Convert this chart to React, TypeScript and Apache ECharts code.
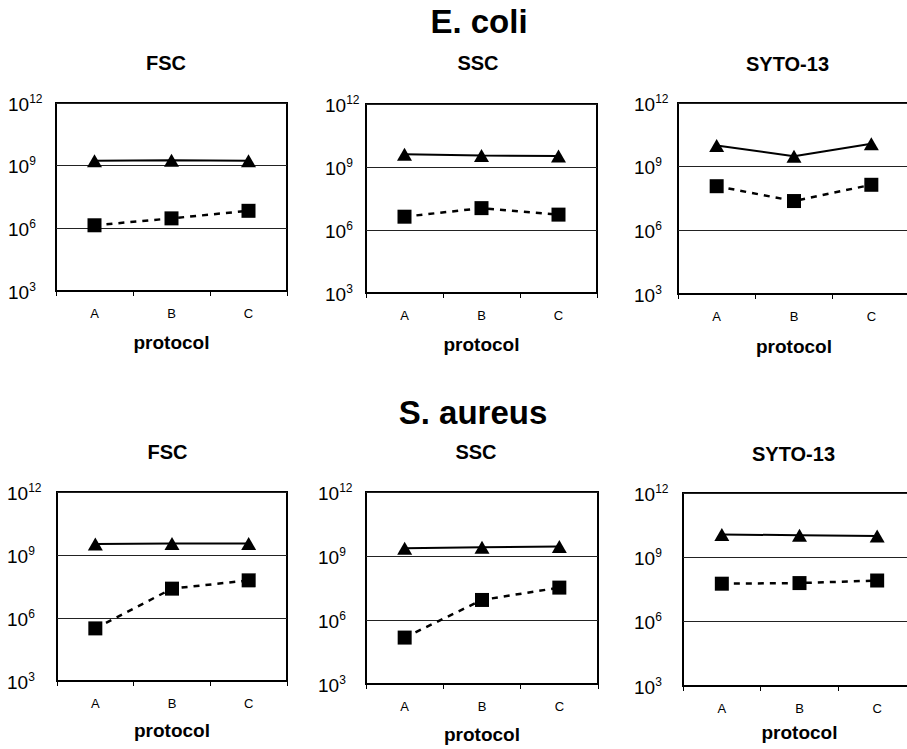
import React, { useEffect, useRef } from "react";
import * as echarts from "echarts";

// ---------- data ----------
const categories = ["A", "B", "C"];
const yAxisMin = 1e3;
const yAxisMax = 1e12;

const ecoliFscTriangles = [1.7e9, 1.8e9, 1.7e9];
const ecoliFscSquares = [1.4e6, 3.0e6, 6.9e6];
const ecoliSscTriangles = [4.0e9, 3.5e9, 3.3e9];
const ecoliSscSquares = [4.3e6, 1.1e7, 5.4e6];
const ecoliSytoTriangles = [1.0e10, 3.1e9, 1.2e10];
const ecoliSytoSquares = [1.2e8, 2.4e7, 1.4e8];

const saureusFscTriangles = [3.3e9, 3.5e9, 3.5e9];
const saureusFscSquares = [3.2e5, 2.5e7, 6.2e7];
const saureusSscTriangles = [2.3e9, 2.6e9, 2.8e9];
const saureusSscSquares = [1.5e5, 8.7e6, 3.3e7];
const saureusSytoTriangles = [1.17e10, 1.07e10, 9.8e9];
const saureusSytoSquares = [5.9e7, 6.3e7, 8.3e7];

const organismTitles = ["E. coli", "S. aureus"];
const panelTitles = ["FSC", "SSC", "SYTO-13", "FSC", "SSC", "SYTO-13"];
const xAxisTitle = "protocol";

const panelData = [
  [ecoliFscTriangles, ecoliFscSquares],
  [ecoliSscTriangles, ecoliSscSquares],
  [ecoliSytoTriangles, ecoliSytoSquares],
  [saureusFscTriangles, saureusFscSquares],
  [saureusSscTriangles, saureusSscSquares],
  [saureusSytoTriangles, saureusSytoSquares],
];

// ---------- layout ----------
const FONT = "'Liberation Sans', Arial, Helvetica, sans-serif";

const LAYOUT = [
  { left: 56, top: 103, width: 231, height: 188, labelMargin: 48, nameGap: 42, titleX: 166, titleTop: 53 },
  { left: 366, top: 104, width: 231, height: 189, labelMargin: 41, nameGap: 42, titleX: 478, titleTop: 53 },
  { left: 678, top: 103, width: 232, height: 191, labelMargin: 44, nameGap: 43, titleX: 787.5, titleTop: 54 },
  { left: 57, top: 492, width: 230, height: 189, labelMargin: 50, nameGap: 40, titleX: 167.5, titleTop: 442 },
  { left: 366, top: 492, width: 232, height: 192, labelMargin: 48, nameGap: 41, titleX: 476, titleTop: 442 },
  { left: 683, top: 493, width: 233, height: 193, labelMargin: 49, nameGap: 37, titleX: 793.5, titleTop: 444 },
];

const ORGANISM_POS = [
  { x: 479, top: 5 },
  { x: 473, top: 395.5 },
];

export default function App() {
  const ref = useRef<HTMLDivElement>(null);

  useEffect(() => {
    if (!ref.current) return;
    const chart = echarts.init(ref.current, null, { renderer: "svg" });

    const titles: any[] = [
      ...organismTitles.map((t, i) => ({
        text: t,
        left: ORGANISM_POS[i].x,
        top: ORGANISM_POS[i].top,
        textAlign: "center",
        padding: 0,
        textStyle: { fontSize: 33, fontWeight: "bold", color: "#000", fontFamily: FONT },
      })),
      ...panelTitles.map((t, i) => ({
        text: t,
        left: LAYOUT[i].titleX,
        top: LAYOUT[i].titleTop,
        textAlign: "center",
        padding: 0,
        textStyle: { fontSize: 20, fontWeight: "bold", color: "#000", fontFamily: FONT },
      })),
    ];

    const option: any = {
      animation: false,
      backgroundColor: "#ffffff",
      textStyle: { fontFamily: FONT, color: "#000" },
      title: titles,
      grid: LAYOUT.map((l) => ({
        left: l.left,
        top: l.top,
        width: l.width,
        height: l.height,
        show: true,
        borderColor: "#000",
        borderWidth: 2,
        backgroundColor: "transparent",
        containLabel: false,
        outerBoundsMode: "none",
      })),
      xAxis: LAYOUT.map((l, i) => ({
        type: "category",
        gridIndex: i,
        data: categories,
        boundaryGap: true,
        name: xAxisTitle,
        nameLocation: "middle",
        nameGap: l.nameGap,
        nameTextStyle: { fontSize: 19, fontWeight: "bold", color: "#000", fontFamily: FONT },
        axisLine: { show: true, lineStyle: { color: "#000", width: 2 } },
        axisTick: { show: true, length: 5, lineStyle: { color: "#000", width: 1 } },
        axisLabel: { fontSize: 13, color: "#000", margin: 16, fontFamily: FONT },
        splitLine: { show: false },
      })),
      yAxis: LAYOUT.map((l, i) => ({
        type: "log",
        logBase: 1000,
        gridIndex: i,
        min: yAxisMin,
        max: yAxisMax,
        axisLine: { show: false },
        axisTick: { show: false },
        splitLine: { show: true, lineStyle: { color: "#222", width: 1 } },
        axisLabel: {
          margin: l.labelMargin,
          align: "left",
          formatter: (v: number) => `{b|10}{s|${Math.round(Math.log10(v))}}`,
          rich: {
            b: { fontSize: 19, lineHeight: 21, verticalAlign: "bottom", color: "#000", fontFamily: FONT },
            s: { fontSize: 12, lineHeight: 12, verticalAlign: "top", color: "#000", fontFamily: FONT },
          },
        },
      })),
      series: panelData.flatMap(([tri, sq], i) => [
        {
          type: "line",
          name: "triangles",
          xAxisIndex: i,
          yAxisIndex: i,
          data: tri,
          symbol: "triangle",
          symbolSize: [15, 13],
          showSymbol: true,
          silent: true,
          lineStyle: { color: "#000", width: 2 },
          itemStyle: { color: "#000" },
        },
        {
          type: "line",
          name: "squares",
          xAxisIndex: i,
          yAxisIndex: i,
          data: sq,
          symbol: "rect",
          symbolSize: 14,
          showSymbol: true,
          silent: true,
          lineStyle: { color: "#000", width: 2.5, type: [6, 6] },
          itemStyle: { color: "#000" },
        },
      ]),
    };

    chart.setOption(option);
    return () => chart.dispose();
  }, []);

  return (
    <div
      ref={ref}
      style={{ position: "absolute", left: 0, top: 0, width: 907, height: 749, background: "#fff" }}
    />
  );
}
